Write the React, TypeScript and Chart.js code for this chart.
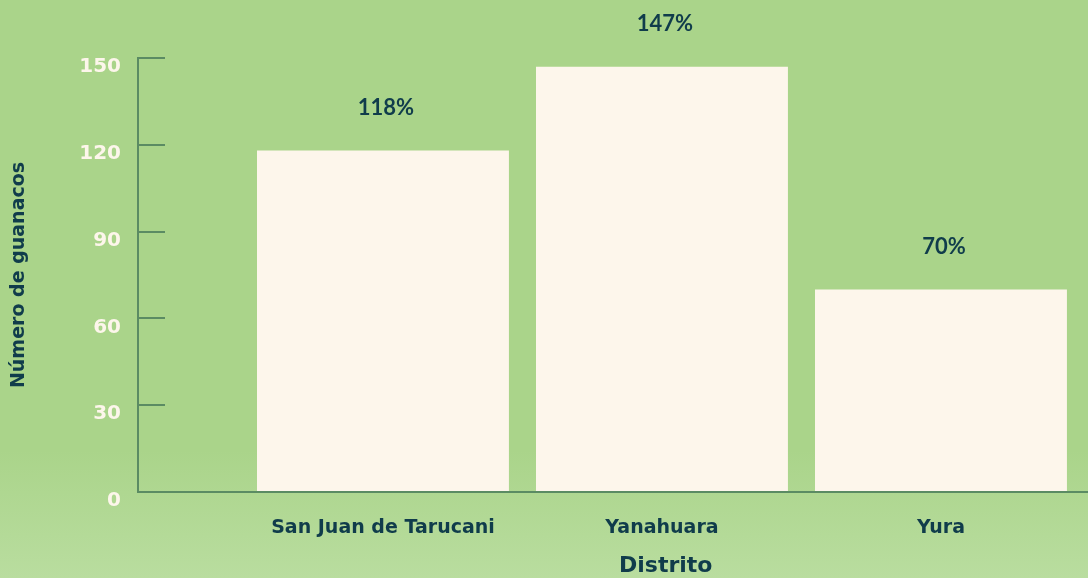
import React, { useEffect, useRef } from "react";
import { Chart, registerables } from "chart.js";

Chart.register(...registerables);

const districts = ["San Juan de Tarucani", "Yanahuara", "Yura"];
const guanacos = [118, 147, 70];
const yTicks = [0, 30, 60, 90, 120, 150];
const yTitle = "Número de guanacos";
const xTitle = "Distrito";

const DARK = "#103c4b";
const CREAM = "#fdf6eb";
const AXIS = "#5b8b63";

const valueLabels = {
  id: "valueLabels",
  afterDatasetsDraw(chart: any) {
    const ctx = chart.ctx;
    const meta = chart.getDatasetMeta(0);
    ctx.save();
    ctx.fillStyle = DARK;
    ctx.font = "bold 22px Lato";
    ctx.textAlign = "center";
    ctx.textBaseline = "middle";
    meta.data.forEach((bar: any, i: number) => {
      ctx.fillText(guanacos[i] + "%", bar.x + 3, bar.y - 43);
    });
    ctx.restore();
  },
};

// x-axis title centred over the category band of the x scale
const xAxisTitle = {
  id: "xAxisTitle",
  afterDraw(chart: any) {
    const x = chart.scales.x;
    const ctx = chart.ctx;
    const cx = (x.getPixelForValue(-0.5) + x.right) / 2;
    ctx.save();
    ctx.fillStyle = DARK;
    ctx.font = "bold 22px 'DejaVu Sans'";
    ctx.textAlign = "center";
    ctx.textBaseline = "middle";
    ctx.fillText(xTitle, cx, x.bottom - 12);
    ctx.restore();
  },
};

export default function App() {
  const ref = useRef<HTMLCanvasElement>(null);
  useEffect(() => {
    document.body.style.margin = "0";
    const chart = new Chart(ref.current!, {
      type: "bar",
      data: {
        datasets: [
          {
            data: guanacos.map((v, i) => ({ x: i, y: v })),
            backgroundColor: CREAM,
            borderWidth: 0,
            categoryPercentage: 0.903,
            barPercentage: 1,
          },
        ],
      },
      options: {
        animation: false,
        responsive: true,
        maintainAspectRatio: false,
        layout: { padding: { top: 58, right: 0, left: 0, bottom: 0 } },
        plugins: { legend: { display: false }, tooltip: { enabled: false } },
        scales: {
          x: {
            type: "linear",
            offset: false,
            min: -0.878,
            max: 2.527,
            afterBuildTicks: (axis: any) => {
              axis.ticks = districts.map((_, i) => ({ value: i }));
            },
            afterFit: (axis: any) => {
              axis.height = 86;
            },
            grid: { display: false, drawTicks: false, tickLength: 0 },
            border: { display: true, color: AXIS, width: 2 },
            ticks: {
              autoSkip: false,
              maxRotation: 0,
              padding: 25,
              color: DARK,
              font: { family: "'DejaVu Sans'", size: 19, weight: "bold" },
              callback: (v: any) => districts[v] ?? "",
            },
            title: { display: false },
          },
          y: {
            min: 0,
            max: 150,
            afterBuildTicks: (axis: any) => {
              axis.ticks = yTicks.map((v) => ({ value: v }));
            },
            afterFit: (axis: any) => {
              axis.width = 138;
            },
            grid: {
              drawOnChartArea: false,
              drawTicks: true,
              tickLength: -27,
              color: AXIS,
              lineWidth: 2,
            },
            border: { display: true, color: AXIS, width: 2 },
            ticks: {
              padding: 44,
              labelOffset: 9,
              color: CREAM,
              font: { family: "'DejaVu Sans'", size: 20, weight: "bold" },
            },
            title: {
              display: true,
              text: yTitle,
              color: DARK,
              font: { family: "'DejaVu Sans'", size: 19, weight: "bold" },
              padding: { top: 8, bottom: 0 },
            },
          },
        },
      },
      plugins: [valueLabels, xAxisTitle],
    } as any);
    return () => chart.destroy();
  }, []);
  return (
    <div
      style={{
        width: 1088,
        height: 578,
        position: "relative",
        background: "linear-gradient(to bottom, #aad48a 0%, #aad48a 78%, #b9dd9f 100%)",
      }}
    >
      <canvas ref={ref} />
    </div>
  );
}
